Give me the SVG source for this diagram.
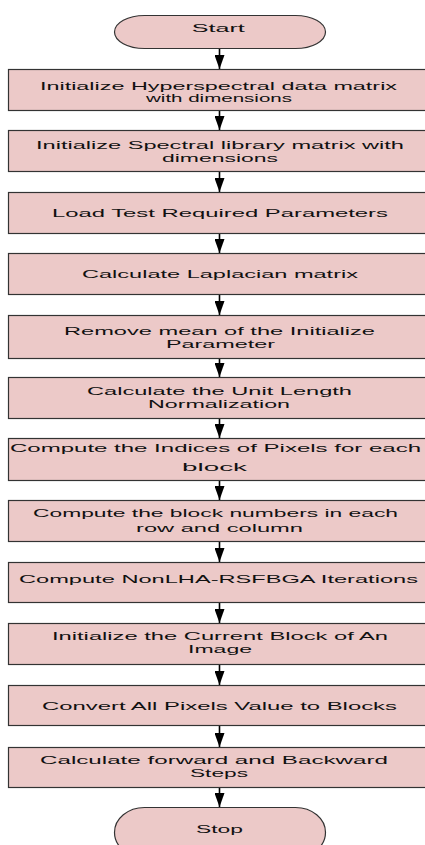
<svg xmlns="http://www.w3.org/2000/svg" width="425" height="845" viewBox="0 0 425 845">
  <defs>
    <style>
      .box { fill: #ecc9c8; stroke: #333; stroke-width: 1.2; }
      .lbl { font-family: "Liberation Sans", Arial, sans-serif; font-size: 11.5px; fill: #111; text-anchor: middle; }
      .conn line { stroke: #000; stroke-width: 1.6; }
    </style>
    <marker id="ah" viewBox="0 0 14 10" refX="14" refY="5" markerUnits="userSpaceOnUse" markerWidth="14" markerHeight="10" orient="auto">
      <path d="M0,0 L14,5 L0,10 Z" fill="#000"/>
    </marker>
  </defs>
  <rect width="425" height="845" fill="#fff"/>

  <g id="connectors" class="conn">
    <line x1="219.5" y1="48" x2="219.5" y2="69" marker-end="url(#ah)"/>
    <line x1="219.5" y1="110" x2="219.5" y2="130" marker-end="url(#ah)"/>
    <line x1="219.5" y1="172" x2="219.5" y2="192" marker-end="url(#ah)"/>
    <line x1="219.5" y1="233" x2="219.5" y2="253" marker-end="url(#ah)"/>
    <line x1="219.5" y1="295" x2="219.5" y2="315" marker-end="url(#ah)"/>
    <line x1="219.5" y1="358" x2="219.5" y2="377" marker-end="url(#ah)"/>
    <line x1="219.5" y1="418" x2="219.5" y2="438" marker-end="url(#ah)"/>
    <line x1="219.5" y1="480" x2="219.5" y2="500" marker-end="url(#ah)"/>
    <line x1="219.5" y1="541" x2="219.5" y2="562" marker-end="url(#ah)"/>
    <line x1="219.5" y1="603" x2="219.5" y2="623" marker-end="url(#ah)"/>
    <line x1="219.5" y1="664" x2="219.5" y2="685" marker-end="url(#ah)"/>
    <line x1="219.5" y1="726" x2="219.5" y2="747" marker-end="url(#ah)"/>
    <line x1="219.5" y1="787" x2="219.5" y2="807" marker-end="url(#ah)"/>
  </g>

  <g id="start">
    <rect class="box" x="114.5" y="15.5" width="211" height="33" rx="30" ry="16.5"/>
    <text class="lbl" x="218.3" y="32" textLength="53" lengthAdjust="spacingAndGlyphs">Start</text>
  </g>

  <g id="n1">
    <rect class="box" x="8.5" y="69.5" width="420" height="41"/>
    <text class="lbl" x="218.5" y="89.5" textLength="357" lengthAdjust="spacingAndGlyphs">Initialize Hyperspectral data matrix</text>
    <text class="lbl" x="219" y="101.5" textLength="146" lengthAdjust="spacingAndGlyphs">with dimensions</text>
  </g>

  <g id="n2">
    <rect class="box" x="8.5" y="130.5" width="420" height="41"/>
    <text class="lbl" x="220" y="149" textLength="368" lengthAdjust="spacingAndGlyphs">Initialize Spectral library matrix with</text>
    <text class="lbl" x="220" y="162" textLength="116" lengthAdjust="spacingAndGlyphs">dimensions</text>
  </g>

  <g id="n3">
    <rect class="box" x="8.5" y="192.5" width="420" height="41"/>
    <text class="lbl" x="220" y="217" textLength="336" lengthAdjust="spacingAndGlyphs">Load Test Required Parameters</text>
  </g>

  <g id="n4">
    <rect class="box" x="8.5" y="253.5" width="420" height="41"/>
    <text class="lbl" x="220" y="277.5" textLength="276" lengthAdjust="spacingAndGlyphs">Calculate Laplacian matrix</text>
  </g>

  <g id="n5">
    <rect class="box" x="8.5" y="315.5" width="420" height="43"/>
    <text class="lbl" x="219.5" y="334.5" textLength="311" lengthAdjust="spacingAndGlyphs">Remove mean of the Initialize</text>
    <text class="lbl" x="220.5" y="348" textLength="109" lengthAdjust="spacingAndGlyphs">Parameter</text>
  </g>

  <g id="n6">
    <rect class="box" x="8.5" y="377.5" width="420" height="41"/>
    <text class="lbl" x="219.5" y="394.5" textLength="265" lengthAdjust="spacingAndGlyphs">Calculate the Unit Length</text>
    <text class="lbl" x="219" y="407.5" textLength="142" lengthAdjust="spacingAndGlyphs">Normalization</text>
  </g>

  <g id="n7">
    <rect class="box" x="8.5" y="438.5" width="420" height="42"/>
    <text class="lbl" x="215.5" y="451.5" textLength="411" lengthAdjust="spacingAndGlyphs">Compute the Indices of Pixels for each</text>
    <text class="lbl" x="214.5" y="471" textLength="65" lengthAdjust="spacingAndGlyphs">block</text>
  </g>

  <g id="n8">
    <rect class="box" x="8.5" y="500.5" width="420" height="41"/>
    <text class="lbl" x="215.5" y="517" textLength="365" lengthAdjust="spacingAndGlyphs">Compute the block numbers in each</text>
    <text class="lbl" x="219.5" y="532" textLength="167" lengthAdjust="spacingAndGlyphs">row and column</text>
  </g>

  <g id="n9">
    <rect class="box" x="8.5" y="562.5" width="420" height="40"/>
    <text class="lbl" x="218.5" y="583" textLength="399" lengthAdjust="spacingAndGlyphs">Compute NonLHA-RSFBGA Iterations</text>
  </g>

  <g id="n10">
    <rect class="box" x="8.5" y="623.5" width="420" height="41"/>
    <text class="lbl" x="220" y="640" textLength="336" lengthAdjust="spacingAndGlyphs">Initialize the Current Block of An</text>
    <text class="lbl" x="220" y="653" textLength="64" lengthAdjust="spacingAndGlyphs">Image</text>
  </g>

  <g id="n11">
    <rect class="box" x="8.5" y="685.5" width="420" height="40"/>
    <text class="lbl" x="219.5" y="710" textLength="355" lengthAdjust="spacingAndGlyphs">Convert All Pixels Value to Blocks</text>
  </g>

  <g id="n12">
    <rect class="box" x="8.5" y="747.5" width="420" height="40"/>
    <text class="lbl" x="214" y="764" textLength="348" lengthAdjust="spacingAndGlyphs">Calculate forward and Backward</text>
    <text class="lbl" x="219" y="777" textLength="58" lengthAdjust="spacingAndGlyphs">Steps</text>
  </g>

  <g id="stop">
    <rect class="box" x="114.5" y="807.5" width="211" height="50" rx="30" ry="25"/>
    <text class="lbl" x="219.5" y="833" textLength="47" lengthAdjust="spacingAndGlyphs">Stop</text>
  </g>
</svg>
